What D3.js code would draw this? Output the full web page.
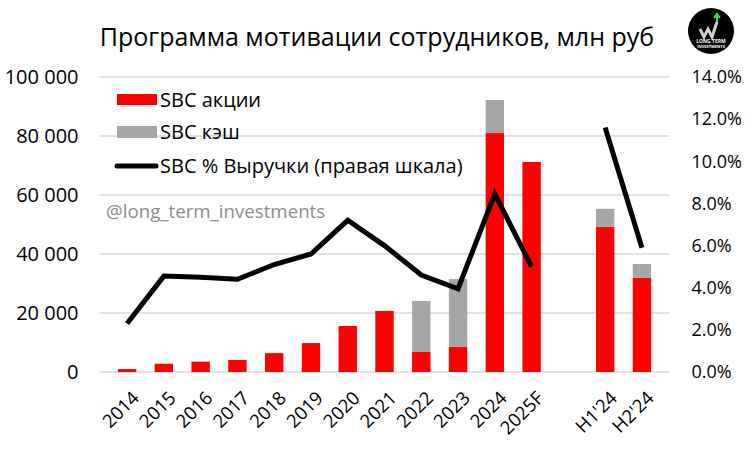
<!DOCTYPE html>
<html>
<head>
<meta charset="utf-8">
<script src="https://cdn.jsdelivr.net/npm/d3@7"></script>
<style>
  body { margin: 0; background: #fff; }
  svg { display: block; font-family: "Open Sans", Lato, sans-serif; }
</style>
</head>
<body>
<svg id="chart"></svg>
<script>
const categories = ["2014", "2015", "2016", "2017", "2018", "2019", "2020", "2021", "2022", "2023", "2024", "2025F", "", "H1'24", "H2'24"];
const sbcShares = [1000, 2800, 3500, 4100, 6400, 9800, 15600, 20700, 6800, 8500, 81000, 71200, null, 49200, 31900];
const sbcCash = [0, 0, 0, 0, 0, 0, 0, 0, 17300, 23000, 11200, 0, null, 6100, 4700];
const sbcPct = [2.3, 4.55, 4.5, 4.4, 5.1, 5.6, 7.2, 6.0, 4.6, 3.95, 8.45, 5.0, null, 11.6, 5.9];
const leftTicks = [0, 20000, 40000, 60000, 80000, 100000];
const rightTicks = [0, 2, 4, 6, 8, 10, 12, 14];

const width = 751, height = 450;
const margin = { top: 77, right: 81.5, bottom: 78, left: 99.5 };
const svg = d3.select("#chart").attr("width", width).attr("height", height);

// index 12 is the empty gap between 2025F and the half-years
const slots = categories.map((c, i) => i).filter(i => categories[i] !== "");
const x = d3.scaleBand().domain(d3.range(categories.length)).range([margin.left, width - margin.right]).padding(0.5);
const y = d3.scaleLinear().domain([0, 100000]).range([height - margin.bottom, margin.top]);
const yR = d3.scaleLinear().domain([0, 14]).range([height - margin.bottom, margin.top]);

// gridlines
svg.append("g").selectAll("line").data(leftTicks).join("line")
  .attr("x1", margin.left).attr("x2", width - margin.right)
  .attr("y1", d => y(d)).attr("y2", d => y(d))
  .attr("stroke", "#d9d9d9").attr("stroke-width", 1.5);

// title
svg.append("text").attr("x", 377).attr("y", 46).attr("text-anchor", "middle")
  .attr("font-size", 25).attr("fill", "#000").text("Программа мотивации сотрудников, млн руб");

// left axis
const axL = svg.append("g").attr("transform", `translate(${margin.left},0)`)
  .call(d3.axisLeft(y).tickValues(leftTicks).tickSize(0).tickPadding(21).tickFormat(d => d3.format(",")(d).replace(/,/g, " ")));
axL.select(".domain").remove();
axL.selectAll("text").attr("font-size", 20).attr("font-family", "'Open Sans', sans-serif").attr("fill", "#000");

// right axis
const axR = svg.append("g").attr("transform", `translate(${width - margin.right},0)`)
  .call(d3.axisRight(yR).tickValues(rightTicks).tickSize(0).tickPadding(22).tickFormat(d => d.toFixed(1) + "%"));
axR.select(".domain").remove();
axR.selectAll("text").attr("font-size", 18).attr("font-family", "'Open Sans', sans-serif").attr("fill", "#000");

// bars
const barData = slots.map(i => ({ i, shares: sbcShares[i], cash: sbcCash[i] }));
svg.append("g").selectAll("rect").data(barData).join("rect")
  .attr("x", d => x(d.i)).attr("width", x.bandwidth())
  .attr("y", d => y(d.shares)).attr("height", d => y(0) - y(d.shares))
  .attr("fill", "#ff0000");
svg.append("g").selectAll("rect").data(barData.filter(d => d.cash > 0)).join("rect")
  .attr("x", d => x(d.i)).attr("width", x.bandwidth())
  .attr("y", d => y(d.shares + d.cash)).attr("height", d => y(d.shares) - y(d.shares + d.cash))
  .attr("fill", "#a6a6a6");

// x labels
svg.append("g").selectAll("text").data(slots).join("text")
  .attr("transform", i => `translate(${x(i) + x.bandwidth() / 2 + 4},${height - margin.bottom + 18}) rotate(-45)`)
  .attr("text-anchor", "end").attr("dy", "0.7em").attr("font-size", 18.5).attr("fill", "#000")
  .text(i => categories[i]);

// percentage line, broken at the empty slot
const line = d3.line().defined(d => d.v != null)
  .x(d => x(d.i) + x.bandwidth() / 2).y(d => yR(d.v));
const lineData = categories.map((c, i) => ({ i, v: sbcPct[i] }));
svg.append("path").datum(lineData).attr("d", line)
  .attr("fill", "none").attr("stroke", "#000").attr("stroke-width", 5);

// watermark
svg.append("text").attr("x", 106).attr("y", 218).attr("font-size", 18.7).attr("fill", "#8c8c8c")
  .text("@long_term_investments");

// legend
const legend = svg.append("g");
legend.append("rect").attr("x", 117).attr("y", 94).attr("width", 40).attr("height", 11).attr("fill", "#ff0000");
legend.append("rect").attr("x", 117).attr("y", 126).attr("width", 40).attr("height", 12).attr("fill", "#a6a6a6");
legend.append("line").attr("x1", 117).attr("x2", 156).attr("y1", 166).attr("y2", 166).attr("stroke", "#000").attr("stroke-width", 5).attr("stroke-linecap", "round");
[["SBC акции", 100], ["SBC кэш", 132], ["SBC % Выручки (правая шкала)", 166]].forEach(([t, yy]) =>
  legend.append("text").attr("x", 160).attr("y", yy).attr("dy", "0.35em").attr("font-size", 20).attr("fill", "#000").text(t));

// logo
const logo = svg.append("g").attr("transform", "translate(711,31)");
logo.append("circle").attr("r", 23).attr("fill", "#000");
logo.append("path").attr("d", "M-11,-2 L-7,6 L-3,-2 L1,6 L6,-9").attr("fill", "none").attr("stroke", "#d0d0d0").attr("stroke-width", 3);
logo.append("path").attr("d", "M6,-9 L6,-16 M3,-13 L6,-17 L9,-13").attr("fill", "none").attr("stroke", "#3ddc5a").attr("stroke-width", 2);
logo.append("text").attr("y", 12).attr("text-anchor", "middle").attr("font-size", 5).attr("font-weight", "bold").attr("fill", "#fff").text("LONG TERM");
logo.append("text").attr("y", 17).attr("text-anchor", "middle").attr("font-size", 4).attr("font-weight", "bold").attr("fill", "#fff").text("INVESTMENTS");
</script>
</body>
</html>
